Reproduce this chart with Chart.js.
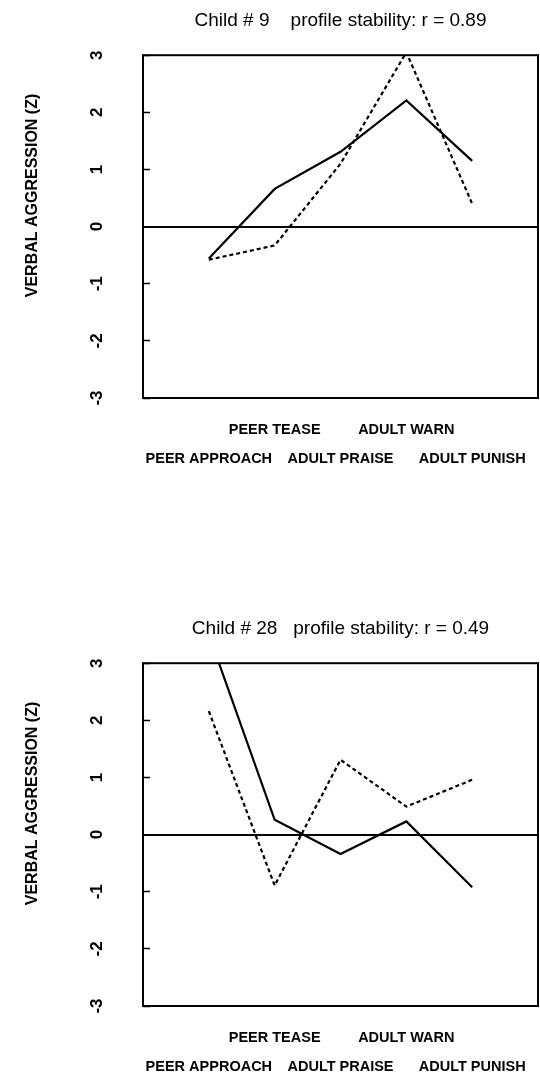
<!DOCTYPE html>
<html>
<head>
<meta charset="utf-8">
<script src="https://cdn.jsdelivr.net/npm/chart.js@4"></script>
<style>
  html, body { margin: 0; padding: 0; background: #fff; }
  body { width: 540px; height: 1072px; position: relative; overflow: hidden; }
  .box { position: absolute; left: 0; width: 540px; }
  #box1 { top: 0; height: 470px; }
  #box2 { top: 608px; height: 464px; }
</style>
</head>
<body>
<div class="box" id="box1"><canvas id="chart1"></canvas></div>
<div class="box" id="box2"><canvas id="chart2"></canvas></div>
<script>
const categories = ['PEER APPROACH', 'PEER TEASE', 'ADULT PRAISE', 'ADULT WARN', 'ADULT PUNISH'];
const xPositions = [1, 2, 3, 4, 5];
const yTicks = [-3, -2, -1, 0, 1, 2, 3];

const child9Solid = [-0.56, 0.66, 1.31, 2.21, 1.15];
const child9Dashed = [-0.58, -0.33, 1.1, 3.05, 0.4];
const child28Solid = [3.5, 0.26, -0.34, 0.23, -0.92];
const child28Dashed = [2.16, -0.89, 1.31, 0.49, 0.96];

Chart.defaults.font.family = '"Liberation Sans", Arial, sans-serif';
Chart.defaults.color = '#000';

// frame round the plot area
const frame = {
  id: 'frame',
  afterDraw(chart) {
    const a = chart.chartArea;
    const ctx = chart.ctx;
    ctx.save();
    ctx.strokeStyle = '#000';
    ctx.lineWidth = 2;
    ctx.strokeRect(a.left, a.top, a.right - a.left, a.bottom - a.top);
    ctx.restore();
  }
};

function points(values) {
  return xPositions.map((x, i) => ({ x: x, y: values[i] }));
}

function makeChart(id, title, solid, dashed) {
  return new Chart(document.getElementById(id), {
    type: 'line',
    data: {
      datasets: [
        { data: points(solid), borderColor: '#000', borderWidth: 2.2, pointRadius: 0, tension: 0, clip: 0 },
        { data: points(dashed), borderColor: '#000', borderWidth: 2.2, borderDash: [4, 3], pointRadius: 0, tension: 0, clip: 0 }
      ]
    },
    options: {
      responsive: true,
      maintainAspectRatio: false,
      animation: false,
      layout: { padding: { left: 0, right: 2, top: 0, bottom: 0 } },
      plugins: {
        legend: { display: false },
        tooltip: { enabled: false },
        title: {
          display: true,
          text: title,
          fullSize: false,
          color: '#000',
          font: { size: 19, weight: 'normal' },
          padding: { top: 8, bottom: 23 }
        }
      },
      scales: {
        x: {
          type: 'linear',
          min: 0,
          max: 6,
          afterBuildTicks: (scale) => { scale.ticks = xPositions.map(v => ({ value: v })); },
          afterFit: (scale) => { scale.height = scale.chart.height - 398; },
          grid: { display: false },
          border: { display: false },
          ticks: {
            maxRotation: 0,
            autoSkip: false,
            padding: 9,
            font: { size: 14.5, weight: 'bold', lineHeight: 2 },
            callback: (value) => {
              const i = xPositions.indexOf(value);
              if (i < 0) return '';
              return i % 2 === 0 ? ['', categories[i]] : [categories[i]];
            }
          }
        },
        y: {
          min: -3,
          max: 3,
          afterBuildTicks: (scale) => { scale.ticks = yTicks.map(v => ({ value: v })); },
          afterFit: (scale) => { scale.width = 143; },
          border: { display: false },
          grid: {
            drawTicks: true,
            tickLength: -7,
            tickColor: '#000',
            tickWidth: 1.5,
            color: (ctx) => ctx.tick && ctx.tick.value === 0 ? '#000' : 'rgba(0,0,0,0)',
            lineWidth: (ctx) => ctx.tick && ctx.tick.value === 0 ? 2 : 1
          },
          ticks: {
            minRotation: 90,
            maxRotation: 90,
            crossAlign: 'center',
            padding: 45,
            font: { size: 17, weight: 'bold' }
          },
          title: {
            display: true,
            // leading spaces push the label up the axis like the original
            text: '              VERBAL AGGRESSION (Z)',
            color: '#000',
            font: { size: 16, weight: 'bold' },
            padding: { top: 23, bottom: 0 }
          }
        }
      }
    },
    plugins: [frame]
  });
}

makeChart('chart1', 'Child # 9    profile stability: r = 0.89', child9Solid, child9Dashed);
makeChart('chart2', 'Child # 28   profile stability: r = 0.49', child28Solid, child28Dashed);
</script>
</body>
</html>
